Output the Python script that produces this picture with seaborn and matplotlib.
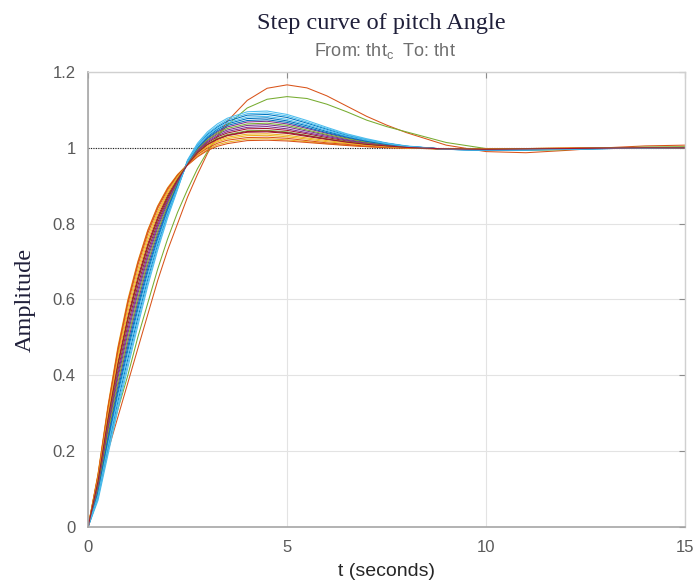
import matplotlib
matplotlib.use("Agg")
import matplotlib.pyplot as plt
import seaborn as sns
import pandas as pd

# Time samples (s) shared by every step response
t_sec = [0, 0.25, 0.5, 0.75, 1.0, 1.25, 1.5, 1.75, 2.0, 2.25, 2.5, 2.75, 3.0, 3.25, 3.5,
         4.0, 4.5, 5.0, 5.5, 6.0, 6.5, 7.0, 7.5, 8.0, 9.0, 10.0, 11.0, 12.0, 13.0, 14.0, 15.0]

# Pitch angle step responses (tht_c -> tht), one list per controller case
resp_01 = [0, 0.088, 0.223, 0.351, 0.465, 0.573, 0.672, 0.759, 0.835, 0.9, 0.962, 1.002, 1.029, 1.049, 1.063, 1.077, 1.079, 1.071, 1.058, 1.043, 1.03, 1.019, 1.01, 1.004, 0.996, 0.994, 0.995, 0.997, 0.998, 0.999, 1.0]
resp_02 = [0, 0.08, 0.20, 0.29, 0.38, 0.47, 0.56, 0.65, 0.73, 0.80, 0.87, 0.93, 0.985, 1.03, 1.07, 1.125, 1.157, 1.166, 1.158, 1.137, 1.11, 1.083, 1.06, 1.04, 1.007, 0.99, 0.987, 0.993, 1.0, 1.005, 1.007]
resp_03 = [0, 0.14, 0.32, 0.475, 0.60, 0.70, 0.783, 0.847, 0.895, 0.93, 0.955, 0.978, 0.995, 1.008, 1.015, 1.023, 1.024, 1.021, 1.016, 1.011, 1.007, 1.003, 1.001, 0.999, 0.997, 0.997, 0.998, 0.999, 1.0, 1.0, 1.0]
resp_04 = [0, 0.105, 0.255, 0.393, 0.51, 0.615, 0.709, 0.789, 0.855, 0.91, 0.959, 0.994, 1.019, 1.036, 1.047, 1.059, 1.061, 1.055, 1.044, 1.033, 1.022, 1.014, 1.007, 1.002, 0.997, 0.995, 0.996, 0.998, 0.999, 1.0, 1.0]
resp_05 = [0, 0.085, 0.21, 0.31, 0.40, 0.50, 0.59, 0.68, 0.76, 0.83, 0.89, 0.945, 0.99, 1.03, 1.06, 1.105, 1.128, 1.135, 1.13, 1.115, 1.095, 1.073, 1.056, 1.042, 1.014, 0.998, 0.993, 0.995, 0.999, 1.002, 1.003]
resp_06 = [0, 0.07, 0.19, 0.31, 0.42, 0.53, 0.635, 0.73, 0.815, 0.89, 0.968, 1.012, 1.042, 1.063, 1.078, 1.095, 1.097, 1.088, 1.072, 1.054, 1.037, 1.024, 1.013, 1.005, 0.996, 0.993, 0.994, 0.996, 0.998, 0.999, 1.0]
resp_07 = [0, 0.114, 0.271, 0.413, 0.533, 0.636, 0.728, 0.803, 0.865, 0.915, 0.957, 0.99, 1.013, 1.029, 1.039, 1.05, 1.051, 1.046, 1.037, 1.027, 1.018, 1.011, 1.006, 1.001, 0.997, 0.996, 0.997, 0.998, 0.999, 1.0, 1.0]
resp_08 = [0, 0.079, 0.206, 0.331, 0.443, 0.551, 0.653, 0.745, 0.825, 0.895, 0.965, 1.007, 1.035, 1.055, 1.07, 1.086, 1.088, 1.08, 1.065, 1.049, 1.033, 1.021, 1.012, 1.004, 0.996, 0.994, 0.995, 0.996, 0.998, 0.999, 1.0]
resp_09 = [0, 0.137, 0.315, 0.47, 0.595, 0.697, 0.781, 0.845, 0.893, 0.928, 0.954, 0.976, 0.993, 1.004, 1.011, 1.019, 1.02, 1.018, 1.014, 1.01, 1.006, 1.003, 1.0, 0.999, 0.997, 0.997, 0.998, 0.999, 1.0, 1.0, 1.0]
resp_10 = [0, 0.131, 0.304, 0.454, 0.578, 0.679, 0.765, 0.832, 0.885, 0.925, 0.956, 0.983, 1.002, 1.016, 1.024, 1.032, 1.033, 1.029, 1.023, 1.016, 1.011, 1.006, 1.003, 1.0, 0.997, 0.997, 0.998, 0.999, 1.0, 1.0, 1.0]
resp_11 = [0, 0.096, 0.239, 0.372, 0.488, 0.594, 0.691, 0.774, 0.845, 0.905, 0.961, 0.998, 1.024, 1.042, 1.055, 1.068, 1.07, 1.063, 1.051, 1.038, 1.026, 1.016, 1.009, 1.003, 0.996, 0.995, 0.996, 0.997, 0.999, 1.0, 1.0]
resp_12 = [0, 0.1, 0.247, 0.382, 0.499, 0.604, 0.7, 0.781, 0.85, 0.907, 0.96, 0.996, 1.021, 1.039, 1.051, 1.063, 1.065, 1.059, 1.047, 1.035, 1.024, 1.015, 1.008, 1.002, 0.996, 0.995, 0.996, 0.997, 0.999, 1.0, 1.0]
resp_13 = [0, 0.075, 0.198, 0.32, 0.431, 0.54, 0.644, 0.737, 0.82, 0.892, 0.966, 1.009, 1.038, 1.058, 1.074, 1.09, 1.092, 1.084, 1.068, 1.051, 1.035, 1.022, 1.012, 1.004, 0.996, 0.993, 0.994, 0.996, 0.998, 0.999, 1.0]
resp_14 = [0, 0.123, 0.288, 0.434, 0.555, 0.658, 0.746, 0.818, 0.875, 0.92, 0.957, 0.987, 1.008, 1.022, 1.032, 1.041, 1.042, 1.038, 1.03, 1.022, 1.015, 1.008, 1.004, 1.001, 0.997, 0.996, 0.997, 0.998, 0.999, 1.0, 1.0]
resp_15 = [0, 0.092, 0.231, 0.361, 0.476, 0.583, 0.681, 0.766, 0.84, 0.902, 0.962, 1.0, 1.026, 1.045, 1.059, 1.072, 1.074, 1.067, 1.054, 1.04, 1.028, 1.017, 1.009, 1.003, 0.996, 0.994, 0.995, 0.997, 0.998, 0.999, 1.0]
resp_16 = [0, 0.135, 0.312, 0.464, 0.589, 0.69, 0.774, 0.84, 0.89, 0.928, 0.957, 0.982, 0.999, 1.012, 1.02, 1.027, 1.028, 1.025, 1.019, 1.013, 1.009, 1.004, 1.002, 0.999, 0.997, 0.997, 0.998, 0.999, 1.0, 1.0, 1.0]
resp_17 = [0, 0.127, 0.296, 0.444, 0.566, 0.668, 0.755, 0.825, 0.88, 0.922, 0.957, 0.985, 1.005, 1.019, 1.028, 1.036, 1.037, 1.033, 1.026, 1.019, 1.013, 1.007, 1.003, 1.0, 0.997, 0.996, 0.997, 0.998, 0.999, 1.0, 1.0]
resp_18 = [0, 0.11, 0.263, 0.403, 0.521, 0.625, 0.718, 0.796, 0.86, 0.912, 0.958, 0.992, 1.016, 1.032, 1.043, 1.054, 1.056, 1.05, 1.04, 1.03, 1.02, 1.012, 1.006, 1.001, 0.997, 0.995, 0.996, 0.998, 0.999, 1.0, 1.0]
resp_19 = [0, 0.118, 0.279, 0.423, 0.544, 0.647, 0.737, 0.81, 0.87, 0.917, 0.958, 0.988, 1.01, 1.025, 1.035, 1.045, 1.046, 1.042, 1.033, 1.024, 1.016, 1.01, 1.005, 1.001, 0.997, 0.996, 0.997, 0.998, 0.999, 1.0, 1.0]
resp_20 = [0, 0.083, 0.214, 0.341, 0.454, 0.562, 0.662, 0.752, 0.83, 0.897, 0.963, 1.003, 1.032, 1.052, 1.066, 1.081, 1.083, 1.075, 1.061, 1.046, 1.031, 1.02, 1.011, 1.004, 0.996, 0.994, 0.995, 0.996, 0.998, 0.999, 1.0]
resp_21 = [0, 0.12, 0.283, 0.428, 0.548, 0.65, 0.74, 0.812, 0.87, 0.916, 0.956, 0.987, 1.009, 1.023, 1.033, 1.043, 1.044, 1.04, 1.032, 1.023, 1.015, 1.009, 1.005, 1.001, 0.997, 0.996, 0.997, 0.998, 0.999, 1.0, 1.0]

responses = [resp_01, resp_02, resp_03, resp_04, resp_05, resp_06, resp_07,
             resp_08, resp_09, resp_10, resp_11, resp_12, resp_13, resp_14,
             resp_15, resp_16, resp_17, resp_18, resp_19, resp_20, resp_21]

# MATLAB default line colour order, cycled over the cases
line_colors = ["#0072BD", "#D95319", "#EDB120", "#7E2F8E", "#77AC30", "#4DBEEE", "#A2142F"]

x_ticks = [0, 5, 10, 15]
y_ticks = [0, 0.2, 0.4, 0.6, 0.8, 1.0, 1.2]
x_tick_labels = ["0", "5", "10", "15"]
y_tick_labels = ["0", "0.2", "0.4", "0.6", "0.8", "1", "1.2"]

rows = []
for k, r in enumerate(responses):
    for tt, yy in zip(t_sec, r):
        rows.append({"t": tt, "amp": yy, "case": f"case {k + 1}"})
df = pd.DataFrame(rows)
palette = [line_colors[k % len(line_colors)] for k in range(len(responses))]

sns.set_theme(style="white")
plt.rcParams["font.family"] = ["Liberation Sans", "DejaVu Sans"]

fig = plt.figure(figsize=(6.97, 5.85), dpi=100)
ax = fig.add_axes([0.1263, 0.0991, 0.8565, 0.7779])

sns.lineplot(data=df, x="t", y="amp", hue="case", palette=palette,
             estimator=None, sort=False, linewidth=0.75, legend=False, ax=ax)

# steady-state reference
ax.axhline(1.0, color="#222222", lw=0.8, ls=(0, (1, 1.2)), zorder=1)

ax.set_xlim(0, 15)
ax.set_ylim(0, 1.2)
ax.set_xticks(x_ticks)
ax.set_xticklabels(x_tick_labels)
ax.set_yticks(y_ticks)
ax.set_yticklabels(y_tick_labels)
ax.grid(True, color="#e3e3e3", lw=0.8)
ax.set_axisbelow(True)

for side in ["left", "bottom"]:
    ax.spines[side].set_color("#a6a6a6")
    ax.spines[side].set_linewidth(1.2)
for side in ["top", "right"]:
    ax.spines[side].set_color("#d0d0d0")
    ax.spines[side].set_linewidth(1.0)

ax.tick_params(axis="both", direction="in", length=4, width=0.8, color="#8c8c8c",
               labelcolor="#5a5a5a", labelsize=12, top=True, right=True, pad=9)

ax.set_xlabel("t (seconds)", fontsize=14, color="#262626", labelpad=6)
ax.set_ylabel("Amplitude", fontsize=17.5, color="#1f1f3a", family=["Liberation Serif"], labelpad=12)

fig.text(0.547, 0.960, "Step curve of pitch Angle", ha="center", va="center",
         fontsize=17.5, color="#1f1f3a", family=["Liberation Serif"])
fig.text(0.553, 0.912, r"From: tht$_{\mathregular{c}}$  To: tht", ha="center", va="center",
         fontsize=13, color="#6e6e6e")

fig.savefig("out.png", dpi=100)
